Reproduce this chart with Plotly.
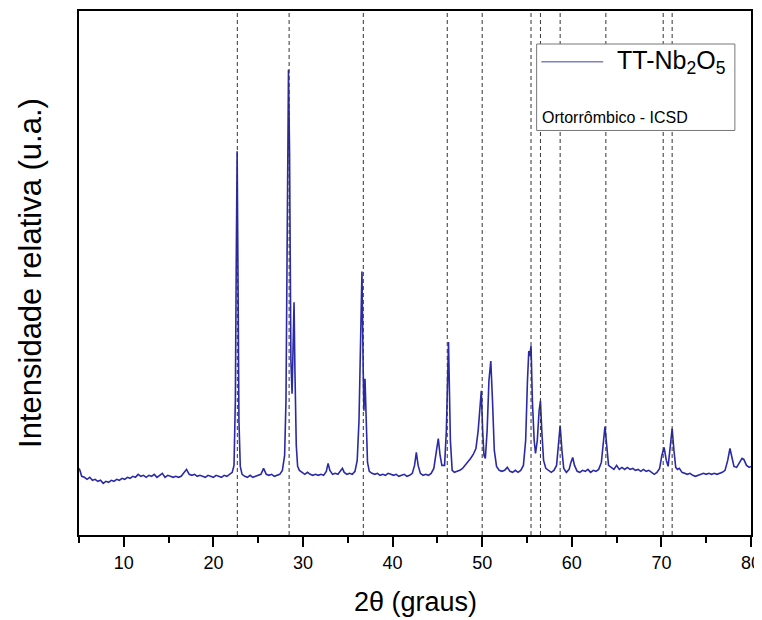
import plotly.graph_objects as go

# 2theta (degrees) and relative intensity (arbitrary units)
two_theta = [
    5.0, 5.1, 5.3, 5.6, 5.9, 6.2, 6.5, 6.8, 7.1, 7.4, 7.7, 8.0, 8.3, 8.6, 8.9, 9.2, 9.5, 9.8,
    10.1, 10.4, 10.7, 11.0, 11.3, 11.6, 11.9, 12.2, 12.5, 12.8, 13.1, 13.4, 13.7, 14.0, 14.3,
    14.6, 14.9, 15.2, 15.5, 15.8, 16.1, 16.4, 16.7, 17.0, 17.3, 17.6, 17.9, 18.2, 18.5, 18.8,
    19.1, 19.4, 19.7, 20.0, 20.3, 20.6, 20.9, 21.2, 21.5, 21.8, 22.1,
    22.3, 22.45, 22.55, 22.65, 22.75, 22.85, 23.0, 23.2, 23.5, 23.8, 24.1, 24.4, 24.7, 25.0,
    25.3, 25.6, 25.9, 26.2, 26.5, 26.8, 27.1, 27.4, 27.7, 27.95, 28.1, 28.25, 28.38, 28.5,
    28.65, 28.78, 28.9, 29.0, 29.1, 29.25, 29.4, 29.6, 29.9, 30.2, 30.5, 30.8, 31.1, 31.4,
    31.7, 32.0, 32.3, 32.6, 32.8, 33.0, 33.3, 33.6, 33.9, 34.2, 34.4, 34.6, 34.9, 35.2, 35.5,
    35.8, 36.05, 36.25, 36.42, 36.58, 36.72, 36.8, 36.92, 37.05, 37.2, 37.4, 37.7, 38.0,
    38.3, 38.6, 38.9, 39.2, 39.5, 39.8, 40.1, 40.4, 40.7, 41.0, 41.3, 41.6, 41.9, 42.2,
    42.45, 42.65, 42.85, 43.1, 43.4, 43.7, 44.0, 44.3, 44.6, 44.9, 45.1, 45.3, 45.5, 45.8,
    46.0, 46.24, 46.45, 46.65, 46.9, 47.2, 47.5, 47.8, 48.1, 48.4, 48.7, 49.0, 49.3, 49.55,
    49.75, 49.9, 50.05, 50.2, 50.35, 50.55, 50.75, 50.96, 51.15, 51.35, 51.6, 51.9, 52.2,
    52.5, 52.8, 53.1, 53.4, 53.7, 54.0, 54.3, 54.6, 54.85, 55.05, 55.2, 55.3, 55.45, 55.6,
    55.8, 55.95, 56.15, 56.35, 56.5, 56.65, 56.85, 57.1, 57.4, 57.7, 58.0, 58.3, 58.5, 58.7,
    58.9, 59.1, 59.4, 59.7, 59.9, 60.1, 60.3, 60.6, 60.9, 61.2, 61.5, 61.8, 62.1, 62.4, 62.7,
    63.0, 63.3, 63.5, 63.7, 63.9, 64.1, 64.4, 64.7, 65.0, 65.3, 65.6, 65.9, 66.2, 66.5, 66.8,
    67.1, 67.4, 67.7, 68.0, 68.3, 68.6, 68.9, 69.2, 69.5, 69.8, 70.05, 70.3, 70.55, 70.75,
    71.0, 71.2, 71.4, 71.6, 71.8, 72.0, 72.3, 72.6, 72.9, 73.2, 73.5, 73.8, 74.1, 74.4, 74.7,
    75.0, 75.3, 75.6, 75.9, 76.2, 76.5, 76.8, 77.1, 77.4, 77.65, 77.9, 78.1, 78.4, 78.7, 79.0,
    79.2, 79.5, 79.8, 80.0,
]
intensity = [
    72, 70, 64, 63, 61, 63, 60, 61, 59, 60, 57, 59, 58, 60, 59, 61, 60, 62,
    61, 63, 62, 64, 63, 66, 64, 65, 63, 65, 64, 66, 63, 65, 67,
    63, 65, 64, 63, 64, 63, 64, 67, 71, 66, 65, 66, 64, 65, 64,
    63, 65, 64, 63, 65, 64, 63, 65, 64, 66, 68,
    75, 140, 280, 391, 260, 120, 74, 66, 64, 63, 65, 63, 64, 65,
    66, 72, 66, 65, 66, 64, 65, 66, 70, 85, 140, 340, 473, 390,
    180, 147, 200, 239, 170, 95, 74, 70, 68, 66, 68, 66, 65, 66,
    65, 66, 65, 69, 77, 70, 66, 67, 66, 69, 72, 68, 66, 67, 66,
    69, 80, 120, 210, 270, 170, 130, 162, 120, 78, 69, 67, 66,
    67, 65, 66, 65, 67, 66, 65, 66, 64, 65, 66, 64, 65, 67,
    75, 88, 75, 67, 65, 66, 65, 67, 72, 90, 102, 85, 75, 75,
    110, 199, 100, 70, 68, 69, 70, 72, 75, 78, 82, 86, 92, 110,
    140, 150, 110, 85, 82, 110, 160, 180, 140, 90, 74, 70, 69,
    70, 73, 69, 68, 70, 68, 70, 75, 100, 160, 190, 185, 195, 140,
    100, 87, 100, 130, 140, 110, 80, 72, 70, 68, 70, 75, 95, 115,
    90, 72, 68, 71, 78, 83, 75, 69, 68, 70, 69, 71, 68, 70, 69,
    71, 78, 95, 114, 95, 75, 73, 71, 75, 71, 73, 71, 73, 71, 72,
    70, 71, 69, 71, 69, 70, 68, 66, 68, 72, 85, 93, 80, 74,
    95, 112, 90, 73, 71, 72, 68, 67, 66, 67, 65, 64, 65, 66, 67,
    66, 67, 66, 67, 66, 67, 68, 70, 80, 92, 82, 74, 73, 78, 82,
    81, 75, 73, 74,
]

# Reference (ICSD, orthorhombic) reflection positions, 2theta (degrees)
reference_positions = [22.67, 28.45, 36.73, 46.1, 50.0, 55.45, 56.5, 58.7, 63.8, 70.2, 71.2]

x_ticks = [10, 20, 30, 40, 50, 60, 70, 80]
x_tick_labels = ["10", "20", "30", "40", "50", "60", "70", "80"]

FONT = "Liberation Sans, Arial, sans-serif"
LINE_COLOR = "#2a2aa8"

fig = go.Figure()
fig.add_trace(go.Scatter(
    x=two_theta, y=intensity, mode="lines",
    line=dict(color=LINE_COLOR, width=1.6),
    name="TT-Nb<sub>2</sub>O<sub>5</sub>", showlegend=False,
))

for pos in reference_positions:
    fig.add_shape(type="line", xref="x", yref="paper", x0=pos, x1=pos, y0=0, y1=1,
                  line=dict(color="#333333", width=1, dash="4px,3px"), layer="above")

# legend box drawn by hand
fig.add_shape(type="rect", xref="paper", yref="paper", x0=0.681, x1=0.976, y0=0.772, y1=0.937,
              line=dict(color="#777777", width=1), fillcolor="white", layer="above")
fig.add_shape(type="line", xref="paper", yref="paper", x0=0.688, x1=0.780, y0=0.903, y1=0.903,
              line=dict(color="#8080c8", width=1.5), layer="above")
fig.add_annotation(xref="paper", yref="paper", x=0.797, y=0.903, xanchor="left", yanchor="middle",
                   text="TT-Nb<sub>2</sub>O<sub>5</sub>", showarrow=False,
                   font=dict(family=FONT, size=25, color="black"))
fig.add_annotation(xref="paper", yref="paper", x=0.686, y=0.797, xanchor="left", yanchor="middle",
                   text="Ortorrômbico - ICSD", showarrow=False,
                   font=dict(family=FONT, size=16, color="black"))

# axis titles
fig.add_annotation(xref="paper", yref="paper", x=0.5, y=-0.128, xanchor="center", yanchor="middle",
                   text="2θ (graus)", showarrow=False, font=dict(family=FONT, size=27, color="black"))
fig.add_annotation(xref="paper", yref="paper", x=-0.073, y=0.5, xanchor="center", yanchor="middle",
                   text="Intensidade relativa (u.a.)", textangle=-90, showarrow=False,
                   font=dict(family=FONT, size=31, color="black"))

fig.update_xaxes(
    range=[5, 80], tickvals=x_ticks, ticktext=x_tick_labels,
    ticks="outside", ticklen=10, tickwidth=1.5, tickcolor="black",
    minor=dict(ticks="outside", ticklen=6, tickwidth=1.5, tickcolor="black", dtick=5, tick0=5),
    showline=True, linecolor="black", linewidth=2, mirror=True,
    showgrid=False, zeroline=False,
    tickfont=dict(family=FONT, size=18, color="black"),
)
fig.update_yaxes(
    range=[5, 532], showticklabels=False, ticks="",
    showline=True, linecolor="black", linewidth=2, mirror=True,
    showgrid=False, zeroline=False,
)
# the page body adds an 8px offset; margins compensate so the plot frame sits where the reference has it
fig.update_layout(
    width=762, height=620,
    margin=dict(l=71, r=19, t=1, b=93),
    paper_bgcolor="white", plot_bgcolor="white",
    showlegend=False,
)

fig.write_html("out.html", config={"displayModeBar": False})
